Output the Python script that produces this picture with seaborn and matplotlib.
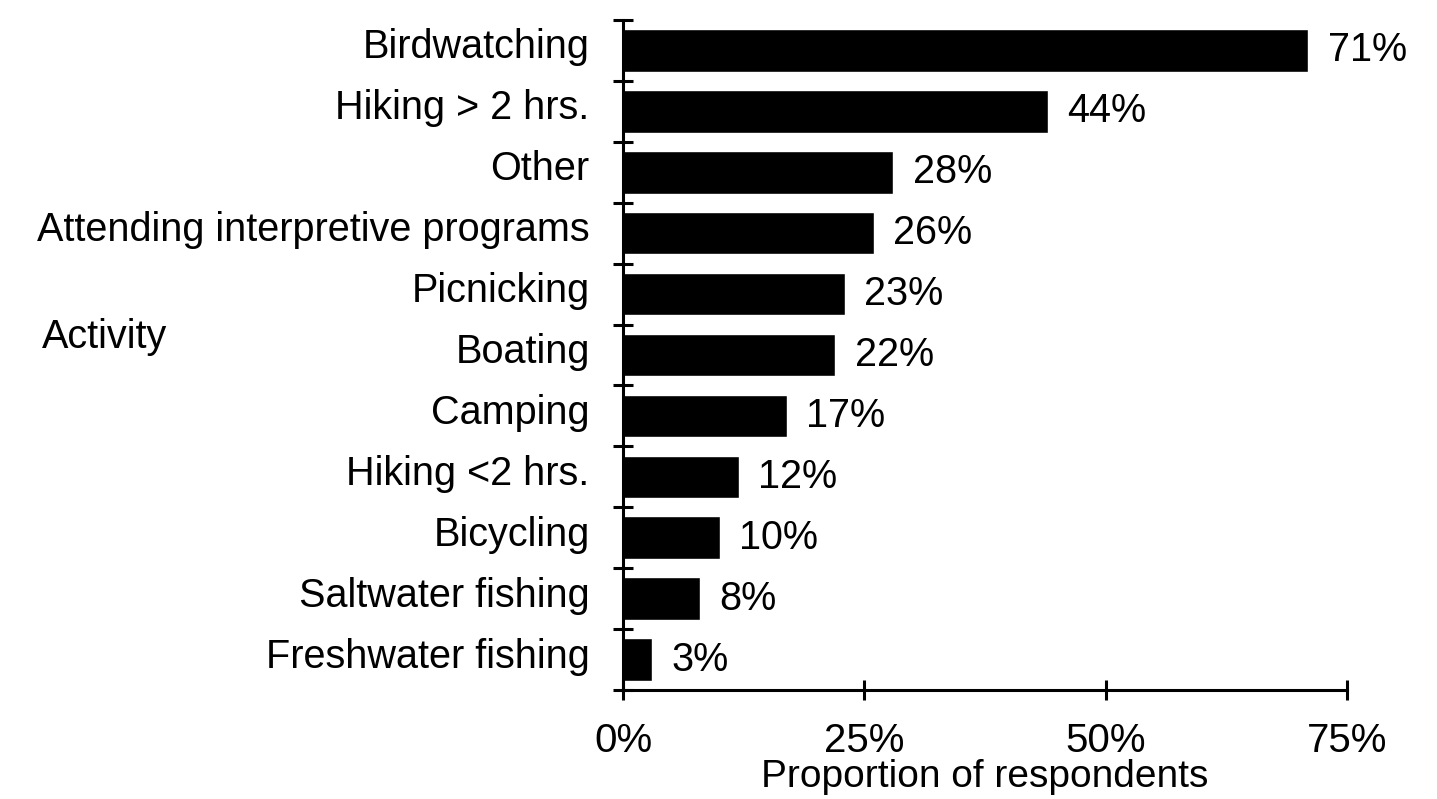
import matplotlib
matplotlib.use("Agg")
import matplotlib.pyplot as plt
import matplotlib.transforms as mtransforms
import seaborn as sns
import pandas as pd
from matplotlib.ticker import FixedLocator, PercentFormatter

activities = ["Birdwatching", "Hiking > 2 hrs.", "Other", "Attending interpretive programs",
              "Picnicking", "Boating", "Camping", "Hiking <2 hrs.", "Bicycling",
              "Saltwater fishing", "Freshwater fishing"]
proportions = [71, 44, 28, 26, 23, 22, 17, 12, 10, 8, 3]
x_ticks = [0, 25, 50, 75]

sns.set_theme(style="ticks")
plt.rcParams['font.family'] = ['Liberation Sans', 'DejaVu Sans']
plt.rcParams['text.color'] = 'black'
plt.rcParams['xtick.color'] = 'black'
plt.rcParams['ytick.color'] = 'black'
plt.rcParams['axes.labelcolor'] = 'black'

df = pd.DataFrame({"Activity": activities, "Proportion": proportions})

fig = plt.figure(figsize=(14.37, 7.99), dpi=100)
ax = fig.add_axes([0.4336, 0.1364, 0.9374 - 0.4336, 0.975 - 0.1364])
sns.barplot(data=df, y="Activity", x="Proportion", orient="h", color="black",
            saturation=1, width=0.7, ax=ax)

ax.set_xlim(0, 75)
ax.set_ylim(len(activities) - 0.5, -0.5)
ax.set_xticks(x_ticks)
ax.xaxis.set_major_formatter(PercentFormatter(decimals=0))
ax.tick_params(axis="x", direction="inout", length=14, width=2.2, labelsize=29, pad=16)
ax.tick_params(axis="y", which="major", length=0, labelsize=28.5, pad=24)
ax.yaxis.set_minor_locator(FixedLocator([i - 0.5 for i in range(len(activities) + 1)]))
ax.tick_params(axis="y", which="minor", direction="inout", length=14, width=2.2)
for lbl in ax.get_yticklabels():
    lbl.set_transform(lbl.get_transform() + mtransforms.ScaledTranslation(0, 7 / 100, fig.dpi_scale_trans))
for s in ["top", "right"]:
    ax.spines[s].set_visible(False)
for s in ["left", "bottom"]:
    ax.spines[s].set_linewidth(2.2)
    ax.spines[s].set_color("black")
ax.set_ylabel("")
ax.set_xlabel("Proportion of respondents", fontsize=28, labelpad=-1)

for i, v in enumerate(proportions):
    ax.text(v + 2.0, i, f"{v}%", va="center", ha="left", fontsize=28.5)

fig.text(0.029, 0.578, "Activity", fontsize=28.5, ha="left", va="center")

fig.savefig("out.png", dpi=100, facecolor="white")
